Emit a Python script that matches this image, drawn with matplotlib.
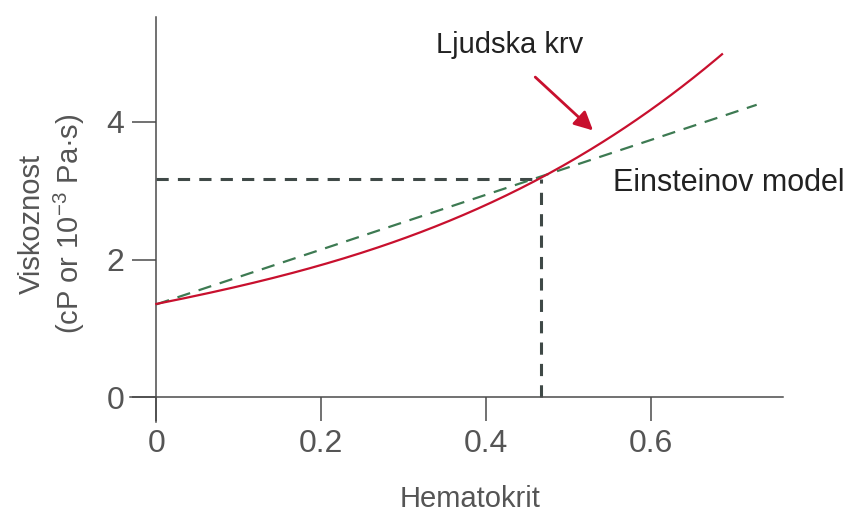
import numpy as np
import matplotlib.pyplot as plt

plt.rcParams['font.family'] = ['Liberation Sans', 'DejaVu Sans']
plt.rcParams['mathtext.default'] = 'regular'

# hematocrit vs viscosity
hct = [0.0, 0.1, 0.2, 0.3, 0.4, 0.467, 0.55, 0.6, 0.686]
blood = [1.35, 1.62, 1.93, 2.31, 2.78, 3.17, 3.80, 4.20, 4.97]
einstein_x = [0.0, 0.728]
einstein_y = [1.35, 4.25]
normal_hct = 0.467
normal_visc = 3.17

xticks = [0, 0.2, 0.4, 0.6]
xtick_labels = ['0', '0.2', '0.4', '0.6']
yticks = [0, 2, 4]

axis_col = '#4a4a4a'
text_col = '#555555'
red = '#c8102e'

fig = plt.figure(figsize=(8.53, 5.12), dpi=100)
ax = fig.add_axes([0.1524, 0.1758, 0.918 - 0.1524, 0.966 - 0.1758])

# smooth the red curve through the read points
xs = np.linspace(0, hct[-1], 200)
coef = np.polyfit(hct, blood, 3)
ax.plot(xs, np.polyval(coef, xs), color=red, lw=1.6, zorder=3)

ax.plot(einstein_x, einstein_y, color='#3d7a52', lw=1.6, dashes=(6, 4), zorder=2)

# reference lines at normal hematocrit
ax.plot([0, normal_hct], [normal_visc, normal_visc], color='#3f4947', lw=2.2, dashes=(4, 3), zorder=1)
ax.plot([normal_hct, normal_hct], [0, normal_visc], color='#3f4947', lw=2.2, dashes=(4, 3), zorder=1)

ax.set_xlim(-0.032, 0.76)
ax.set_ylim(-0.36, 5.52)

for s in ['top', 'right']:
    ax.spines[s].set_visible(False)
for s in ['left', 'bottom']:
    ax.spines[s].set_position(('data', 0))
    ax.spines[s].set_color(axis_col)
    ax.spines[s].set_linewidth(1.1)

ax.set_xticks(xticks)
ax.set_xticklabels(xtick_labels)
ax.set_yticks(yticks)
ax.tick_params(direction='out', length=17, width=1.1, color=axis_col,
               labelsize=23, labelcolor=text_col, pad=6)

ax.set_xlabel('Hematokrit', fontsize=21, color=text_col)
ax.xaxis.set_label_coords(0.52, -0.156)
ax.set_ylabel('Viskoznost\n(cP or 10$^{-3}$ Pa·s)', fontsize=21, color=text_col,
              linespacing=1.2, ha='center')
ax.yaxis.set_label_coords(-0.066, 0.49)

ax.text(0.429, 5.12, 'Ljudska krv', fontsize=21, color='#222222', ha='center', va='center')
ax.annotate('', xy=(0.532, 3.85), xytext=(0.457, 4.68),
            arrowprops=dict(arrowstyle='-|>', color=red, lw=2, mutation_scale=28))
ax.text(0.554, 3.11, 'Einsteinov model', fontsize=22, color='#222222',
        ha='left', va='center', clip_on=False)

fig.savefig('out.png', dpi=100)
